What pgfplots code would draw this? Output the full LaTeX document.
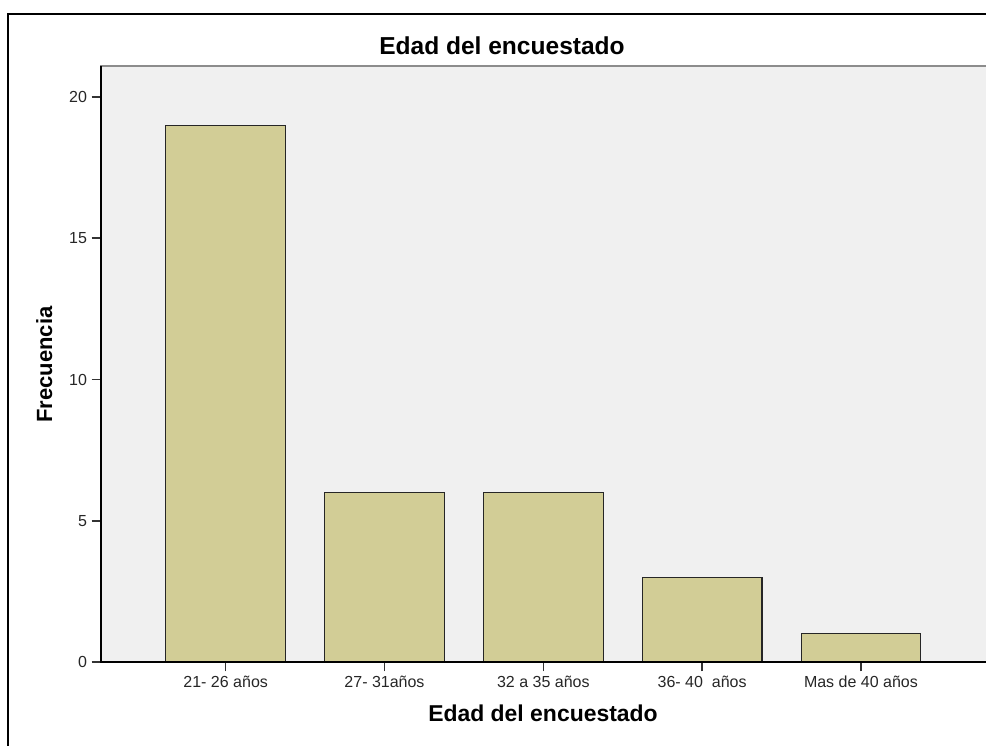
\documentclass[border=0pt]{standalone}
\usepackage{pgfplots}
\pgfplotsset{compat=1.18}
\usepackage{fontspec}
\setmainfont{Liberation Sans}
\definecolor{barfill}{HTML}{D2CD96}
\definecolor{plotbg}{HTML}{F0F0F0}
\definecolor{framegray}{HTML}{8C8C8C}
\begin{document}
\begin{tikzpicture}
\useasboundingbox (0,0) rectangle (739.5pt,559.5pt);
\begin{axis}[
  at={(75.75pt,63pt)}, anchor=south west,
  scale only axis, width=665.25pt, height=447pt,
  xmin=-0.785, xmax=4.80, ymin=0, ymax=21.1,
  clip=false,
  axis background/.style={fill=plotbg},
  axis line style={draw=framegray, line width=1.2pt},
  xtick={0,1,2,3,4},
  xticklabels={21- 26 años, 27- 31años, 32 a 35 años, 36- 40\ \ años, Mas de 40 años},
  ytick={0,5,10,15,20},
  tick align=outside, major tick length=7pt,
  tick pos=left,
  tick style={black!80, line width=1.2pt},
  tick label style={font=\fontsize{12}{14}\selectfont, text=black!85},
  /pgf/number format/assume math mode=true,
  bar width=0.753,
]
\addplot[ybar, fill=barfill, draw=black!85, line width=0.9pt]
  coordinates {(0,19) (1,6) (2,6) (3,3) (4,1)};
\draw[black, line width=1.2pt] (rel axis cs:0,1) -- (rel axis cs:0,0) -- (rel axis cs:1,0);
\end{axis}
\node[anchor=base, font=\bfseries\fontsize{18.4}{20}\selectfont] at (376.5pt,518.25pt) {Edad del encuestado};
\node[anchor=base, font=\bfseries\fontsize{17.2}{20}\selectfont] at (407.25pt,18pt) {Edad del encuestado};
\node[anchor=base, rotate=90, font=\bfseries\fontsize{16.5}{20}\selectfont] at (39pt,286.1pt) {Frecuencia};
\draw[line width=1.5pt] (6pt,-5pt) rectangle (745pt,549pt);
\end{tikzpicture}
\end{document}
